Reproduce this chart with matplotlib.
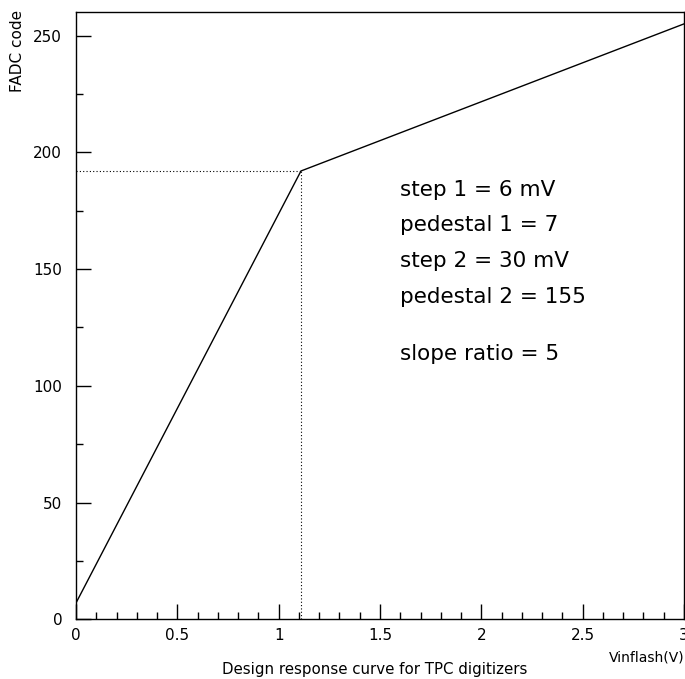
import matplotlib.pyplot as plt
from matplotlib.ticker import MultipleLocator

# response curve: two linear segments meeting at the knee
vin = [0.0, 1.11, 3.0]
code = [7, 192, 255]
knee_x = 1.11
knee_y = 192

notes = ["step 1 = 6 mV", "pedestal 1 = 7", "step 2 = 30 mV", "pedestal 2 = 155", "slope ratio = 5"]
note_y = [184, 168.7, 153.4, 138.1, 113.4]

plt.rcParams['font.family'] = 'DejaVu Sans'

fig = plt.figure(figsize=(6.85, 6.79), dpi=100)
ax = fig.add_axes([0.111, 0.088, 0.8875, 0.894])

ax.plot(vin, code, color='black', lw=1.0)
ax.plot([0, knee_x], [knee_y, knee_y], color='black', lw=0.8, ls=(0, (1, 2)))
ax.plot([knee_x, knee_x], [0, knee_y], color='black', lw=0.8, ls=(0, (1, 2)))

ax.set_xlim(0, 3)
ax.set_ylim(0, 260)
ax.xaxis.set_minor_locator(MultipleLocator(0.1))
ax.yaxis.set_major_locator(MultipleLocator(50))
ax.yaxis.set_minor_locator(MultipleLocator(25))
ax.set_xticks([0, 0.5, 1, 1.5, 2, 2.5, 3], ['0', '0.5', '1', '1.5', '2', '2.5', '3'])
ax.tick_params(which='major', direction='in', length=11, width=1, labelsize=11, pad=6)
ax.tick_params(which='minor', direction='in', length=5, width=1)
ax.tick_params(axis='y', pad=10)
for s in ax.spines.values():
    s.set_linewidth(1.0)

for line, yv in zip(notes, note_y):
    ax.text(1.6, yv, line, fontsize=15.5, va='center', ha='left')

fig.text(0.026, 0.985, 'FADC code', rotation=90, fontsize=11, ha='center', va='top')
fig.text(0.999, 0.032, 'Vinflash(V)', fontsize=10, ha='right', va='center')
fig.text(0.547, 0.008, 'Design response curve for TPC digitizers', fontsize=10.8,
         ha='center', va='baseline')

plt.savefig('out.png', dpi=100)
plt.close()
